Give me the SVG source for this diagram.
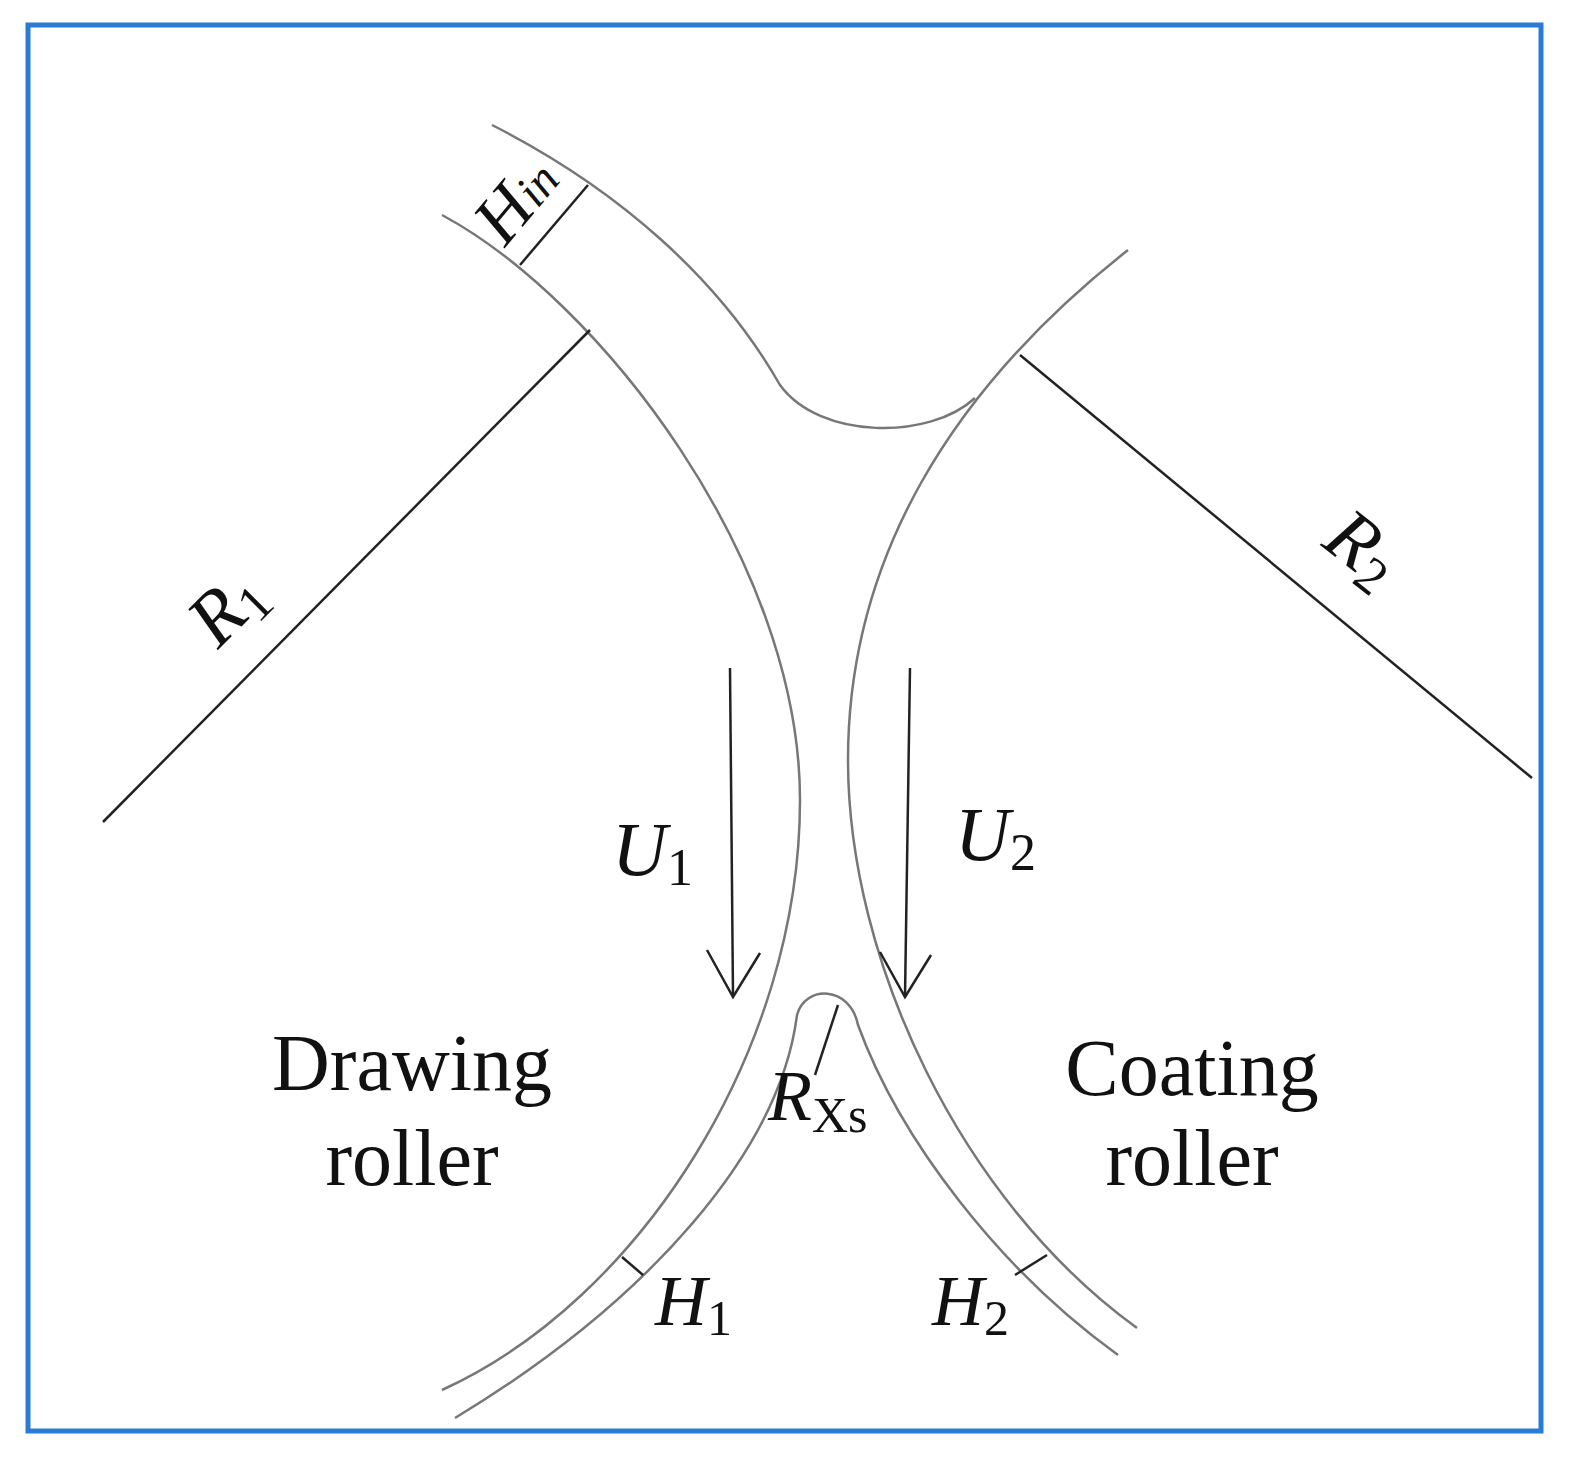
<svg xmlns="http://www.w3.org/2000/svg" width="1586" height="1476" viewBox="0 0 1586 1476">
<style>
.c{fill:none;stroke:#777;stroke-width:2.5}
.l{fill:none;stroke:#222;stroke-width:2.5}
.t{font-family:"Liberation Serif",serif;font-style:italic;fill:#111}
.s{font-style:normal}
.n{font-family:"Liberation Serif",serif;fill:#111;font-size:80px}
</style>
<rect x="28" y="25" width="1513" height="1406" fill="#fff" stroke="#2a7bd3" stroke-width="5"/>
<g id="rollers">
<path class="c" d="M442,215 C600,300 800,560 800,800 C800,1050 640,1300 442,1390"/>
<path class="c" d="M1128,250 C950,390 848,560 848,760 C848,960 960,1200 1137,1328"/>
<path class="c" d="M492,125 C620,190 720,280 780,385 C820,440 930,440 975,398"/>
<path class="c" d="M455,1418 C650,1300 780,1150 797,1015 C805,985 850,985 858,1025 C900,1140 1000,1270 1118,1355"/>
</g>
<g id="connectors">
<line class="l" x1="590" y1="330" x2="103" y2="822"/>
<line class="l" x1="1020" y1="355" x2="1532" y2="778"/>
<line class="l" x1="520" y1="265" x2="588" y2="185"/>
<line class="l" x1="622" y1="1257" x2="643" y2="1275"/>
<line class="l" x1="1015" y1="1275" x2="1047" y2="1255"/>
<line class="l" x1="838" y1="1005" x2="815" y2="1075"/>
<line class="l" x1="730" y1="668" x2="733" y2="995"/>
<polyline class="l" points="707,950 733,997 760,953"/>
<line class="l" x1="910" y1="668" x2="905" y2="997"/>
<polyline class="l" points="880,952 905,997 931,955"/>
</g>
<g id="labels">
<text class="t" font-size="70" transform="translate(505,248) rotate(-50)">H<tspan font-size="48">in</tspan></text>
<text class="t" font-size="76" transform="translate(218,650) rotate(-45)">R<tspan class="s" font-size="52" dy="10">1</tspan></text>
<text class="t" font-size="76" transform="translate(1320,545) rotate(38)">R<tspan class="s" font-size="52" dy="10">2</tspan></text>
<text class="t" font-size="76" x="612" y="875">U<tspan class="s" font-size="52" dy="10">1</tspan></text>
<text class="t" font-size="76" x="955" y="860">U<tspan class="s" font-size="52" dy="10">2</tspan></text>
<text class="t" font-size="72" x="768" y="1120">R<tspan class="s" font-size="50" dy="12">Xs</tspan></text>
<text class="t" font-size="72" x="655" y="1325">H<tspan class="s" font-size="50" dy="10">1</tspan></text>
<text class="t" font-size="72" x="932" y="1325">H<tspan class="s" font-size="50" dy="10">2</tspan></text>
<text class="n" x="412" y="1090" text-anchor="middle">Drawing</text>
<text class="n" x="412" y="1185" text-anchor="middle">roller</text>
<text class="n" x="1192" y="1095" text-anchor="middle">Coating</text>
<text class="n" x="1192" y="1185" text-anchor="middle">roller</text>
</g>
</svg>
